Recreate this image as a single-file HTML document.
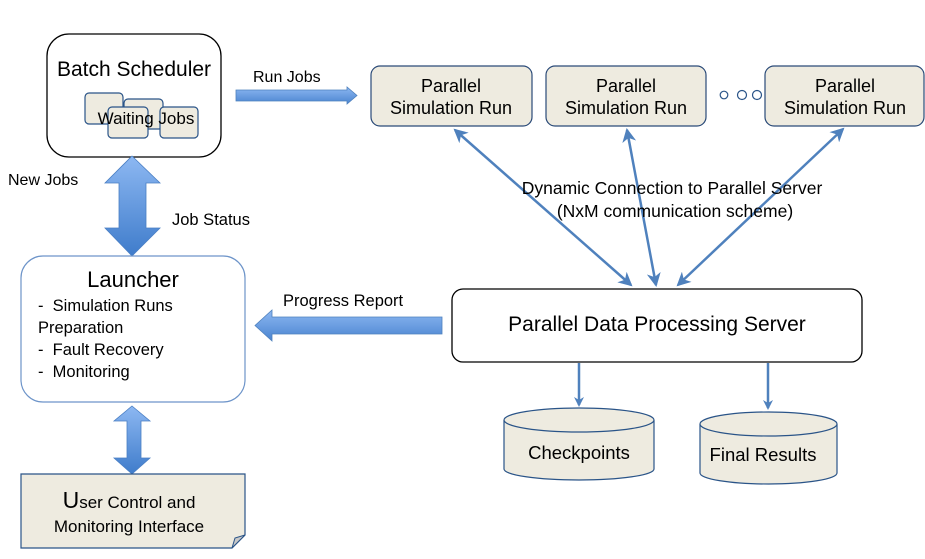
<!DOCTYPE html>
<html><head><meta charset="utf-8"><style>
html,body{margin:0;padding:0;background:#fff;}
svg text{font-family:"Liberation Sans",sans-serif;fill:#000;}
</style></head><body>
<svg width="925" height="554" viewBox="0 0 925 554" xmlns="http://www.w3.org/2000/svg">
<defs>
<linearGradient id="gv" x1="0" y1="0" x2="0" y2="1"><stop offset="0" stop-color="#8db8f2"/><stop offset="1" stop-color="#3f7ccb"/></linearGradient>
<linearGradient id="gh" x1="0" y1="0" x2="0" y2="1"><stop offset="0" stop-color="#8db8f2"/><stop offset="1" stop-color="#4a84d0"/></linearGradient>
<marker id="ah" markerWidth="14" markerHeight="14" refX="12" refY="7" orient="auto-start-reverse" markerUnits="userSpaceOnUse"><path d="M0,0 L14,7 L0,14 L4,7 z" fill="#4f81bd"/></marker>
<marker id="ah2" markerWidth="10" markerHeight="10" refX="8" refY="5" orient="auto-start-reverse" markerUnits="userSpaceOnUse"><path d="M0,0 L10,5 L0,10 L3,5 z" fill="#4f81bd"/></marker>
</defs>

<rect x="47" y="34" width="174" height="123" rx="22" fill="#fff" stroke="#000" stroke-width="1.3"/>
<text x="134" y="76" font-size="21" text-anchor="middle">Batch Scheduler</text>
<g fill="#eeebe0" stroke="#2a5488" stroke-width="1.2">
<rect x="85" y="93" width="38" height="31" rx="4"/>
<rect x="124" y="99" width="39" height="30" rx="4"/>
<rect x="108" y="107" width="40" height="31" rx="4"/>
<rect x="160" y="107" width="38" height="31" rx="4"/>
</g>
<text x="146" y="124" font-size="17" text-anchor="middle">Waiting Jobs</text>

<text x="253" y="82" font-size="16">Run Jobs</text>
<path d="M236,90 L347,90 L347,87 L357,95.5 L347,104 L347,101 L236,101 z" fill="url(#gh)" stroke="#4f81bd" stroke-width="0.8"/>

<path d="M132,156 L160,183 L146,183 L146,228 L160,228 L132,256 L105,228 L119,228 L119,183 L105,183 z" fill="url(#gv)" stroke="#4a7fc4" stroke-width="0.8"/>
<text x="8" y="185" font-size="16">New Jobs</text>
<text x="172" y="225" font-size="16.5">Job Status</text>

<rect x="21" y="256" width="224" height="146" rx="22" fill="#fff" stroke="#6d94c9" stroke-width="1.2"/>
<text x="133" y="287" font-size="22" text-anchor="middle">Launcher</text>
<text x="38" y="311" font-size="16.5" xml:space="preserve">-  Simulation Runs</text>
<text x="38" y="333" font-size="16.5">Preparation</text>
<text x="38" y="355" font-size="16.5" xml:space="preserve">-  Fault Recovery</text>
<text x="38" y="377" font-size="16.5" xml:space="preserve">-  Monitoring</text>

<path d="M132,406 L150,421 L141,421 L141,458 L150,458 L132,474 L114,458 L127,458 L127,421 L114,421 z" fill="url(#gv)" stroke="#4a7fc4" stroke-width="0.8"/>

<path d="M21,474 L245,474 L245,535 L232,548 L21,548 z" fill="#eeebe0" stroke="#2a5488" stroke-width="1.2"/>
<path d="M245,535 L235,538 L232,548 z" fill="#c8c8c8" stroke="#2a5488" stroke-width="1"/>
<text x="129" y="508" font-size="17" text-anchor="middle"><tspan font-size="23">U</tspan>ser Control and</text>
<text x="129" y="532" font-size="17" text-anchor="middle">Monitoring Interface</text>

<g fill="#eeebe0" stroke="#2a4a78" stroke-width="1.2">
<rect x="371" y="66" width="161" height="60" rx="9"/>
<rect x="546" y="66" width="160" height="60" rx="9"/>
<rect x="765" y="66" width="159" height="60" rx="9"/>
</g>
<g font-size="18" text-anchor="middle">
<text x="451" y="92">Parallel</text><text x="451" y="114">Simulation Run</text>
<text x="626" y="92">Parallel</text><text x="626" y="114">Simulation Run</text>
<text x="845" y="92">Parallel</text><text x="845" y="114">Simulation Run</text>
</g>
<g fill="#fff" stroke="#2a5488" stroke-width="1.2">
<circle cx="724" cy="95" r="3.8"/><circle cx="742" cy="95" r="4.5"/><circle cx="757" cy="95" r="4.5"/>
</g>

<g stroke="#4f81bd" stroke-width="2.5" fill="none">
<line x1="455" y1="130" x2="631" y2="285" marker-start="url(#ah)" marker-end="url(#ah)"/>
<line x1="627" y1="130" x2="656" y2="285" marker-start="url(#ah)" marker-end="url(#ah)"/>
<line x1="843" y1="129" x2="678" y2="285" marker-start="url(#ah)" marker-end="url(#ah)"/>
</g>
<text x="672" y="194" font-size="17.5" text-anchor="middle">Dynamic Connection to Parallel Server</text>
<text x="675" y="217" font-size="17.5" text-anchor="middle">(NxM communication scheme)</text>

<rect x="452" y="289" width="410" height="73" rx="11" fill="#fff" stroke="#000" stroke-width="1.3"/>
<text x="657" y="331" font-size="21" text-anchor="middle">Parallel Data Processing Server</text>

<text x="283" y="306" font-size="16.5">Progress Report</text>
<path d="M442,317 L272,317 L272,310 L255,325.5 L272,341 L272,334 L442,334 z" fill="url(#gh)" stroke="#4f81bd" stroke-width="0.8"/>

<g stroke="#4f81bd" stroke-width="2.5" fill="none">
<line x1="579" y1="363" x2="579" y2="405" marker-end="url(#ah2)"/>
<line x1="768" y1="363" x2="768" y2="408" marker-end="url(#ah2)"/>
</g>

<g fill="#eeebe0" stroke="#2a5488" stroke-width="1.2">
<path d="M504,420 L504,469 A75,11 0 0 0 654,469 L654,420"/>
<ellipse cx="579" cy="420" rx="75" ry="12"/>
<path d="M700,424 L700,473 A68.5,11 0 0 0 837,473 L837,424"/>
<ellipse cx="768.5" cy="424" rx="68.5" ry="12"/>
</g>
<text x="579" y="459" font-size="18.5" text-anchor="middle">Checkpoints</text>
<text x="763" y="461" font-size="18.5" text-anchor="middle">Final Results</text>
</svg>
</body></html>
